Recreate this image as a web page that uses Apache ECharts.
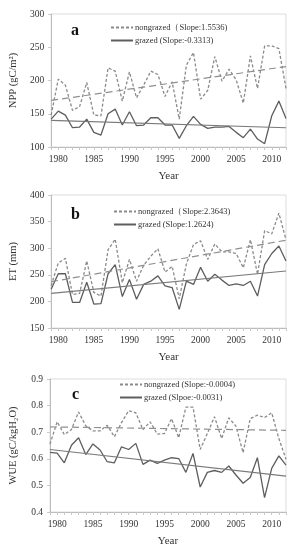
<!DOCTYPE html>
<html><head><meta charset="utf-8">
<script src="https://cdn.jsdelivr.net/npm/echarts@6/dist/echarts.min.js"></script>
<style>html,body{margin:0;padding:0;background:#fff}#c{width:292px;height:550px}</style>
</head><body><div id="c"></div>
<script>
const years = [1979,1980,1981,1982,1983,1984,1985,1986,1987,1988,1989,1990,1991,1992,1993,1994,1995,1996,1997,1998,1999,2000,2001,2002,2003,2004,2005,2006,2007,2008,2009,2010,2011,2012];
const nppNongrazed = [148,202,193,155,161,197,148,147,219,214,169,213,174,193,214,209,176,198,142,223,242,172,185,236,199,217,201,166,237,188,252,252,248,188];
const nppGrazed = [142,154,148,129,130,142,122,118,150,157,133,153,132,133,144,144,133,133,113,132,146,134,128,130,130,131,122,114,127,112,105,147,169,143];
const nppTrendNon = [170,221];
const nppTrendGr = [140,129];
const etNongrazed = [230,272,281,213,215,276,217,210,297,317,235,279,238,268,285,299,255,266,205,270,307,314,279,308,293,293,290,263,316,251,333,327,366,316];
const etGrazed = [223,252,252,198,198,236,195,196,252,269,209,241,204,232,238,248,229,226,185,238,232,264,238,251,240,230,233,230,238,210,269,290,304,276];
const etTrendNon = [237,315];
const etTrendGr = [215,257];
const wueNongrazed = [0.655,0.739,0.691,0.71,0.776,0.724,0.705,0.705,0.726,0.683,0.736,0.781,0.773,0.71,0.739,0.693,0.695,0.751,0.679,0.794,0.794,0.635,0.695,0.758,0.676,0.754,0.723,0.623,0.751,0.764,0.755,0.773,0.676,0.598];
const wueGrazed = [0.624,0.621,0.585,0.651,0.679,0.616,0.656,0.633,0.589,0.585,0.645,0.635,0.658,0.579,0.595,0.583,0.595,0.604,0.601,0.549,0.62,0.494,0.549,0.556,0.549,0.573,0.539,0.508,0.53,0.604,0.454,0.564,0.611,0.576];
const wueTrendNon = [0.72,0.707];
const wueTrendGr = [0.635,0.535];
const trendYears = [1979,2012];
const legendNames = [
  ['nongrazed（Slope:1.5536)','grazed (Slope:-0.3313)'],
  ['nongrazed（Slope:2.3643)','grazed (Slope:1.2624)'],
  ['nongrazed (Slope:-0.0004)','grazed (Slpoe:-0.0031)']
];
const yNames = ['NPP (gC/m²)','ET (mm)','WUE (gC/kgH₂O)'];
const yRanges = [[100,300,50],[150,400,50],[0.4,0.9,0.1]];
const letters = ['a','b','c'];
const xTitle = 'Year';

const FONT = "'Liberation Serif','Times New Roman',serif";
const pairs = (xs, ys) => xs.map((x,i)=>[x, ys[i]]);
const panels = [
  [nppNongrazed,nppGrazed,nppTrendNon,nppTrendGr],
  [etNongrazed,etGrazed,etTrendNon,etTrendGr],
  [wueNongrazed,wueGrazed,wueTrendNon,wueTrendGr]
];
const gridTops = [14,195,379];
const gridLefts = [49,50,50];
const legendPos = [[110,23],[113,207],[119,380]];
const letterPos = [[76,33],[76,217],[77,397]];

const grid=[],xAxis=[],yAxis=[],series=[],legend=[],graphic=[];
panels.forEach((p,i)=>{
  grid.push({left:gridLefts[i],right:6,top:gridTops[i],height:133,show:true,borderColor:'#dcdcdc',borderWidth:1});
  xAxis.push({type:'value',gridIndex:i,min:1979,max:2012,interval:1,
    name:xTitle,nameLocation:'middle',nameGap:24,nameTextStyle:{fontFamily:FONT,fontSize:11,color:'#333'},
    axisLine:{lineStyle:{color:'#bdbdbd'}},axisTick:{length:3,lineStyle:{color:'#c8c8c8'}},
    splitLine:{show:false},
    axisLabel:{fontFamily:FONT,fontSize:9.5,color:'#333',margin:7,formatter:v=>v%5===0?String(v):''}});
  const r=yRanges[i];
  yAxis.push({type:'value',gridIndex:i,min:r[0],max:r[1],interval:r[2],
    name:yNames[i],nameLocation:'middle',nameGap:31,nameTextStyle:{fontFamily:FONT,fontSize:10.5,color:'#333'},
    axisLine:{show:true,lineStyle:{color:'#bdbdbd'}},axisTick:{show:true,length:3,lineStyle:{color:'#c8c8c8'}},
    splitLine:{show:false},
    axisLabel:{fontFamily:FONT,fontSize:9.5,color:'#333',margin:7,formatter:v=>i===2?v.toFixed(1):String(v)}});
  series.push({name:legendNames[i][0],type:'line',xAxisIndex:i,yAxisIndex:i,data:pairs(years,p[0]),symbol:'none',
    lineStyle:{color:'#8a8a8a',width:1.3,type:[3,2]},itemStyle:{color:'#8a8a8a'}});
  series.push({name:legendNames[i][1],type:'line',xAxisIndex:i,yAxisIndex:i,data:pairs(years,p[1]),symbol:'none',
    lineStyle:{color:'#5e5e5e',width:1.3},itemStyle:{color:'#5e5e5e'}});
  series.push({name:'trendN'+i,type:'line',xAxisIndex:i,yAxisIndex:i,data:pairs(trendYears,p[2]),symbol:'none',
    lineStyle:{color:'#8f8f8f',width:1.2,type:[7,4]},silent:true});
  series.push({name:'trendG'+i,type:'line',xAxisIndex:i,yAxisIndex:i,data:pairs(trendYears,p[3]),symbol:'none',
    lineStyle:{color:'#7a7a7a',width:1.1},silent:true});
  legend.push({data:legendNames[i],orient:'vertical',left:legendPos[i][0],top:legendPos[i][1],
    itemWidth:22,itemHeight:8,itemGap:4,padding:0,itemStyle:{opacity:0},
    textStyle:{fontFamily:FONT,fontSize:8.5,color:'#333',padding:[0,0,0,-3]}});
  graphic.push({type:'text',left:letterPos[i][0]-5,top:letterPos[i][1]-10,
    style:{text:letters[i],font:"bold 16px "+FONT,fill:'#111'}});
});

const chart = echarts.init(document.getElementById('c'),null,{renderer:'canvas'});
chart.setOption({animation:false,grid,xAxis,yAxis,series,legend,graphic});
</script></body></html>
